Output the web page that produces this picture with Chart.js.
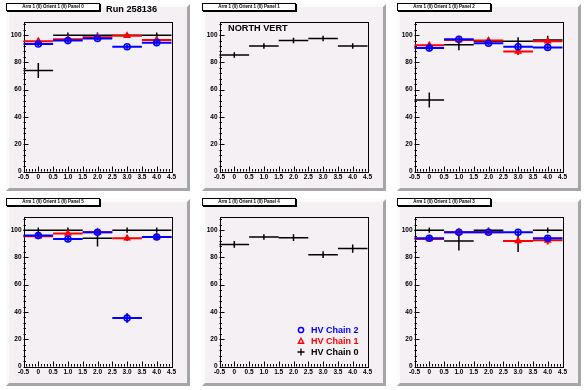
<!DOCTYPE html>
<html>
<head>
<meta charset="utf-8">
<script src="https://cdn.jsdelivr.net/npm/chart.js@4.4.0/dist/chart.umd.min.js"></script>
<style>
  html, body { margin: 0; padding: 0; background: #ffffff; }
  #page { position: relative; width: 587px; height: 390px; overflow: hidden; font-family: "Liberation Sans", Arial, sans-serif; }
  canvas { position: absolute; }
  .ptitle { position: absolute; width: 92px; height: 6px; background: #fff; border: 1px solid #000; box-shadow: 1px 1px 0 #000;
            font-size: 4.5px; line-height: 6px; text-align: center; font-weight: bold; white-space: nowrap; z-index: 2; }
  .label { position: absolute; font-weight: bold; white-space: nowrap; z-index: 2; }
  .legrow { position: absolute; font-weight: bold; font-size: 9px; line-height: 10px; white-space: nowrap; z-index: 2; }
  .legrow svg { position: absolute; left: -15px; top: 0; }
</style>
</head>
<body>
<div id="page"></div>
<script>
// bins (x centers) and half width of each bin
const binCenters = [0, 1, 2, 3, 4];
const binHalfWidth = 0.5;

// pads in grid order: top row left->right, bottom row left->right
const panelNames = ['Panel 0', 'Panel 1', 'Panel 2', 'Panel 5', 'Panel 4', 'Panel 3'];

// HV Chain 0 (black)
const chain0Values = [
  [74, 100, 100, 100, 100],
  [85.5, 92, 96, 97.5, 92],
  [52.5, 93, 95.5, 95.5, 96.5],
  [100, 100, 94, 100, 100],
  [89.5, 95, 94.5, 82, 86.5],
  [100, 92, 100, 92, 100]
];
const chain0Errors = [
  [5.5, 2, 2, 1.5, 2],
  [2, 2, 2, 2, 2],
  [5.5, 4, 2, 3, 3],
  [2, 2, 6, 2, 2],
  [2.5, 2, 2.5, 2.5, 3],
  [2, 7, 2, 8, 2]
];

// HV Chain 1 (red)
const chain1Values = [
  [95.5, 97, 98.5, 99.5, 96.5],
  null,
  [92.5, 96.5, 96, 88, 95.5],
  [95.5, 97.5, 98.5, 94, 95],
  null,
  [93.5, 98.5, 98.5, 92, 92.5]
];
const chain1Errors = [
  [2, 1.5, 1.5, 1.5, 1.5],
  null,
  [2, 1.5, 2, 2.5, 2],
  [1.5, 1.5, 1.5, 2, 1.5],
  null,
  [1.5, 1, 1, 2, 3]
];

// HV Chain 2 (blue)
const chain2Values = [
  [93.5, 96, 97.5, 91.5, 94.5],
  null,
  [90.5, 97, 94, 91.5, 91],
  [96, 93.5, 98.5, 35.5, 95],
  null,
  [94, 98.5, 98.5, 98.5, 94]
];
const chain2Errors = [
  [1.5, 1.5, 1.5, 1.5, 1.5],
  null,
  [1.5, 1, 1.5, 1.5, 1.5],
  [1.5, 2, 1.5, 3.5, 2],
  null,
  [1.5, 1, 1, 1, 1.5]
];

const FONT = '"Liberation Sans", Arial, sans-serif';
const PAD_COLOR = '#f4f0f4';
const PAD_W = 184, PAD_H = 187;
const padX = [6, 202, 397];
const padY = [4, 199];

// pad fill + bevel, frame, inward tick marks, error bars
const rootStyle = {
  id: 'rootStyle',
  beforeDraw(chart) {
    const c = chart.ctx, w = chart.width, h = chart.height;
    c.save();
    c.fillStyle = PAD_COLOR;
    c.fillRect(0, 0, w, h);
    const b = 3;
    c.fillStyle = '#fbfbfb';
    c.beginPath(); c.moveTo(0, 0); c.lineTo(w, 0); c.lineTo(w - b, b); c.lineTo(b, b); c.lineTo(b, h - b); c.lineTo(0, h); c.closePath(); c.fill();
    c.fillStyle = '#a6a6a6';
    c.beginPath(); c.moveTo(w, 0); c.lineTo(w, h); c.lineTo(0, h); c.lineTo(b, h - b); c.lineTo(w - b, h - b); c.lineTo(w - b, b); c.closePath(); c.fill();
    c.restore();
  },
  beforeDatasetsDraw(chart) {
    const c = chart.ctx, a = chart.chartArea;
    const xs = chart.scales.x, ys = chart.scales.y;
    c.save();
    c.strokeStyle = '#000';
    c.lineWidth = 1;
    c.strokeRect(Math.round(a.left) + 0.5, Math.round(a.top) + 0.5, Math.round(a.right - a.left), Math.round(a.bottom - a.top));
    c.beginPath();
    for (let k = 0; k <= 50; k++) {
      const px = Math.round(xs.getPixelForValue(-0.5 + k * 0.1)) + 0.5;
      const len = k % 5 === 0 ? 5 : 2.5;
      c.moveTo(px, a.bottom); c.lineTo(px, a.bottom - len);
    }
    for (let k = 0; k <= 27; k++) {
      const v = k * 4;
      const py = Math.round(ys.getPixelForValue(v)) + 0.5;
      const len = v % 20 === 0 ? 5 : 2.5;
      c.moveTo(a.left, py); c.lineTo(a.left + len, py);
    }
    c.stroke();
    c.restore();
  },
  beforeDatasetDraw(chart, args) {
    const ds = chart.data.datasets[args.index];
    const c = chart.ctx, xs = chart.scales.x, ys = chart.scales.y;
    c.save();
    c.strokeStyle = ds.borderColor;
    c.lineWidth = ds.barWidth;
    c.beginPath();
    ds.data.forEach((p, k) => {
      const e = ds.errors[k];
      const py = ys.getPixelForValue(p.y), px = xs.getPixelForValue(p.x);
      c.moveTo(xs.getPixelForValue(p.x - binHalfWidth), py);
      c.lineTo(xs.getPixelForValue(p.x + binHalfWidth), py);
      c.moveTo(px, ys.getPixelForValue(p.y - e));
      c.lineTo(px, ys.getPixelForValue(p.y + e));
    });
    c.stroke();
    c.restore();
  }
};

function toPoints(values) {
  return binCenters.map((x, k) => ({ x: x, y: values[k] }));
}

function createPanel(i) {
  const page = document.getElementById('page');
  const canvas = document.createElement('canvas');
  const col = i % 3, row = Math.floor(i / 3);
  canvas.style.left = padX[col] + 'px';
  canvas.style.top = padY[row] + 'px';
  canvas.width = PAD_W;
  canvas.height = PAD_H;
  canvas.style.width = PAD_W + 'px';
  canvas.style.height = PAD_H + 'px';
  page.appendChild(canvas);

  const title = document.createElement('div');
  title.className = 'ptitle';
  title.style.left = padX[col] + 'px';
  title.style.top = (padY[row] - 1) + 'px';
  title.textContent = 'Arm 1 (0) Orient 1 (0) ' + panelNames[i];
  page.appendChild(title);

  const datasets = [];
  if (chain2Values[i]) {
    datasets.push({
      label: 'HV Chain 2',
      data: toPoints(chain2Values[i]),
      errors: chain2Errors[i],
      borderColor: '#0000ff',
      backgroundColor: 'rgba(0,0,0,0)',
      pointStyle: 'circle',
      pointRadius: 3,
      pointBorderWidth: 1.6,
      barWidth: 2
    });
  }
  if (chain1Values[i]) {
    datasets.push({
      label: 'HV Chain 1',
      data: toPoints(chain1Values[i]),
      errors: chain1Errors[i],
      borderColor: '#ff0000',
      backgroundColor: 'rgba(0,0,0,0)',
      pointStyle: 'triangle',
      pointRadius: 3,
      pointBorderWidth: 1.6,
      barWidth: 2
    });
  }
  datasets.push({
    label: 'HV Chain 0',
    data: toPoints(chain0Values[i]),
    errors: chain0Errors[i],
    borderColor: '#000000',
    backgroundColor: '#000000',
    pointRadius: 0,
    barWidth: 1.5
  });

  new Chart(canvas, {
    type: 'scatter',
    data: { datasets: datasets },
    plugins: [rootStyle],
    options: {
      responsive: false,
      animation: false,
      events: [],
      layout: { padding: { left: 0, top: 17.5, right: 18.5, bottom: 0 } },
      scales: {
        x: {
          type: 'linear',
          min: -0.5,
          max: 4.5,
          afterFit(s) { s.height = 19.5; },
          grid: { drawOnChartArea: false, drawTicks: false },
          border: { display: false },
          ticks: {
            stepSize: 0.5,
            autoSkip: false,
            maxRotation: 0,
            padding: 2,
            color: '#000',
            font: { family: FONT, size: 6.5, weight: 'bold' }
          }
        },
        y: {
          type: 'linear',
          min: 0,
          max: 110,
          afterFit(s) { s.width = 17.5; },
          grid: { drawOnChartArea: false, drawTicks: false },
          border: { display: false },
          ticks: {
            stepSize: 20,
            padding: 2,
            color: '#000',
            font: { family: FONT, size: 6.5, weight: 'bold' },
            callback: (v) => (v % 20 === 0 ? v : '')
          }
        }
      },
      plugins: {
        legend: { display: false },
        tooltip: { enabled: false }
      }
    }
  });
}

for (let i = 0; i < 6; i++) createPanel(i);

// texts
const page = document.getElementById('page');
function addLabel(text, left, top, size, color) {
  const d = document.createElement('div');
  d.className = 'label';
  d.style.left = left + 'px';
  d.style.top = top + 'px';
  d.style.fontSize = size + 'px';
  d.style.lineHeight = size + 'px';
  d.style.color = color;
  d.textContent = text;
  page.appendChild(d);
}
addLabel('Run 258136', 106, 4.5, 9.2, '#000');
addLabel('NORTH VERT', 228, 23.5, 9.2, '#000');

// legend (pad with Panel 4)
const legendItems = [
  { text: 'HV Chain 2', color: '#0000ff', mark: '<circle cx="5" cy="5" r="2.6" fill="none" stroke="#0000ff" stroke-width="1.5"/>' },
  { text: 'HV Chain 1', color: '#ff0000', mark: '<path d="M5 2.2 L7.6 7.2 L2.4 7.2 Z" fill="none" stroke="#ff0000" stroke-width="1.4"/>' },
  { text: 'HV Chain 0', color: '#000000', mark: '<path d="M5 1.5 V8.5 M1.5 5 H8.5" stroke="#000" stroke-width="1.3"/>' }
];
legendItems.forEach((it, k) => {
  const d = document.createElement('div');
  d.className = 'legrow';
  d.style.left = '311px';
  d.style.top = (325 + k * 11) + 'px';
  d.style.color = it.color;
  d.innerHTML = '<svg width="10" height="10">' + it.mark + '</svg>';
  d.appendChild(document.createTextNode(it.text));
  page.appendChild(d);
});
</script>
</body>
</html>
